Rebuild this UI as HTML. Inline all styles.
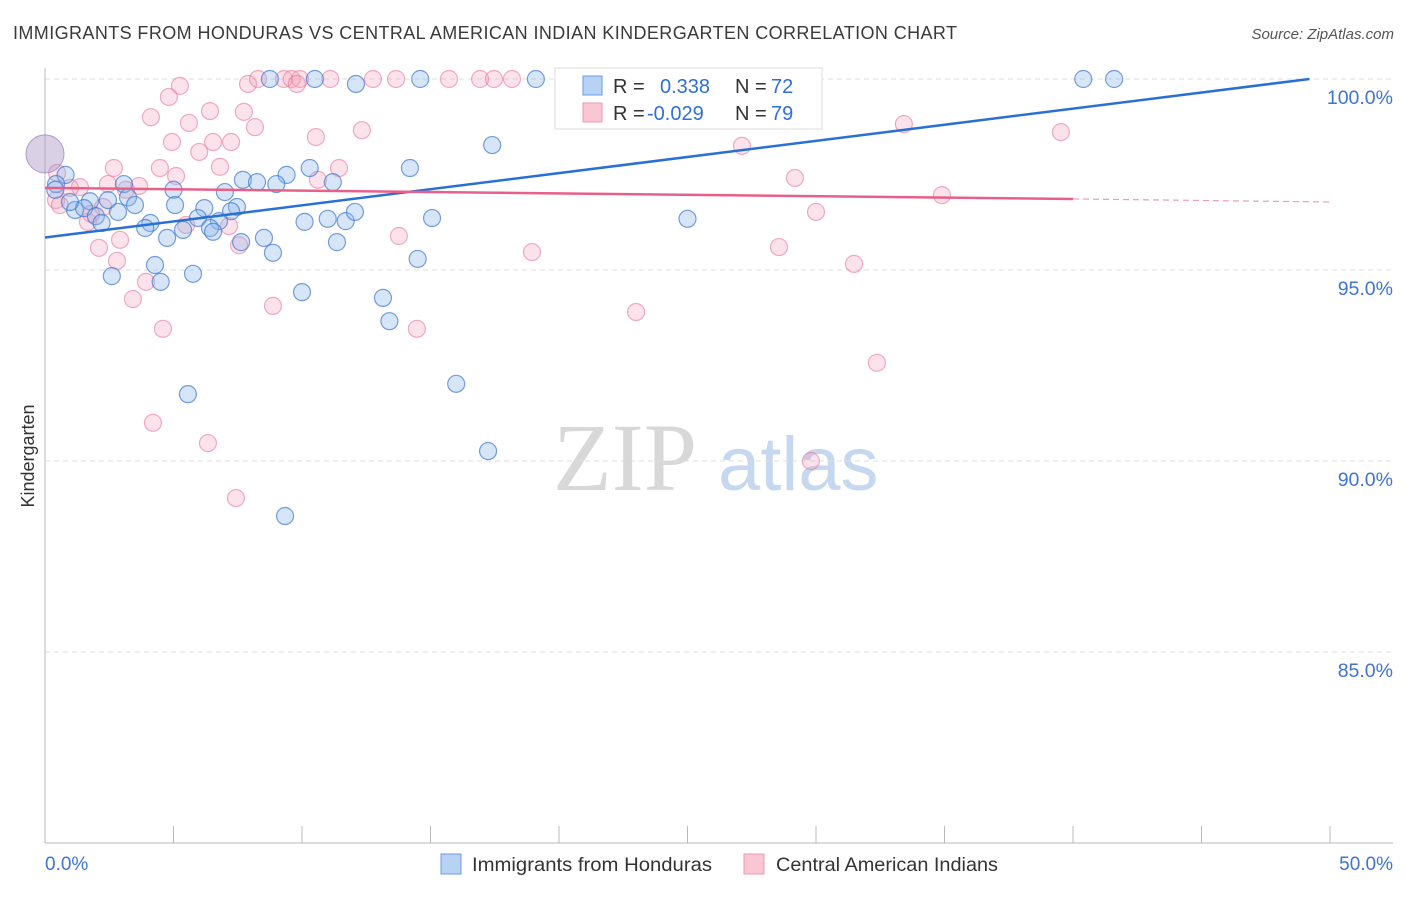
<!DOCTYPE html>
<html><head><meta charset="utf-8"><style>
body{margin:0;background:#fff;font-family:"Liberation Sans",sans-serif}
svg text{font-family:"Liberation Sans",sans-serif}
</style></head><body>
<svg id="chart" width="1406" height="892" xmlns="http://www.w3.org/2000/svg">
<text x="13" y="39" font-size="18" fill="#3a3a3a" textLength="944" lengthAdjust="spacing">IMMIGRANTS FROM HONDURAS VS CENTRAL AMERICAN INDIAN KINDERGARTEN CORRELATION CHART</text>
<text x="1394" y="39" font-size="15" fill="#555" text-anchor="end" font-style="italic">Source: ZipAtlas.com</text>
<g>
<text x="553" y="490" font-size="96" fill="#d8d8d8" font-family="Liberation Serif" style="font-family:'Liberation Serif',serif">ZIP</text>
<text x="718" y="490" font-size="76" fill="#c5d8f0">atlas</text>
</g>
<g id="grid"></g>
<g id="axes"></g>
<g id="pts"></g>
<g id="trends"></g>
<g>
<rect x="555" y="68" width="267" height="61" fill="#fff" stroke="#ddd"/>
<rect x="583" y="76" width="19" height="19" fill="#b8d2f4" stroke="#6a9be0"/>
<rect x="583" y="103" width="19" height="19" fill="#f9c6d4" stroke="#ee98b0"/>
<text x="613" y="93" font-size="20" fill="#333">R = </text><text x="660" y="93" font-size="20" fill="#2f6fd6">0.338</text>
<text x="735" y="93" font-size="20" fill="#333">N = </text><text x="771" y="93" font-size="20" fill="#2f6fd6">72</text>
<text x="613" y="120" font-size="20" fill="#333">R = </text><text x="647" y="120" font-size="20" fill="#2f6fd6">-0.029</text>
<text x="735" y="120" font-size="20" fill="#333">N = </text><text x="771" y="120" font-size="20" fill="#2f6fd6">79</text>
</g>
<g>
<rect x="441" y="854" width="20" height="20" fill="#b8d2f4" stroke="#6a9be0"/>
<text x="472" y="871" font-size="19.5" fill="#333" textLength="240" lengthAdjust="spacingAndGlyphs">Immigrants from Honduras</text>
<rect x="744" y="854" width="20" height="20" fill="#f9c6d4" stroke="#ee98b0"/>
<text x="776" y="871" font-size="19.5" fill="#333" textLength="222" lengthAdjust="spacingAndGlyphs">Central American Indians</text>
</g>
<text transform="translate(34,456) rotate(-90)" font-size="18" fill="#333" text-anchor="middle">Kindergarten</text>
</svg>
<script>
const blueX=[8.75,10.5,12.1,14.6,19.1,23.8,28.2,40.4,41.6,17.4,14.2,10.3,9.4,11.2,7.7,8.25,9.0,0.8,0.43,3.07,5.0,7.0,3.23,1.75,3.5,5.06,6.2,7.47,7.24,2.84,1.17,1.52,1.98,2.2,4.1,3.9,5.37,5.95,6.77,6.42,6.54,10.1,11.0,11.7,12.06,15.06,25.0,4.75,7.63,8.52,11.36,8.87,14.5,4.28,2.6,4.5,5.76,10.0,13.15,13.4,16.0,5.56,17.24,9.34,0.4,0.97,2.45];
const blueY=[100,100,99.87,100,100,100,100,100,100,98.27,97.67,97.67,97.49,97.3,97.36,97.3,97.25,97.49,97.25,97.25,97.1,97.04,96.9,96.8,96.7,96.7,96.62,96.65,96.54,96.52,96.57,96.62,96.41,96.23,96.23,96.1,96.05,96.36,96.28,96.1,96.0,96.26,96.34,96.28,96.52,96.36,96.34,95.84,95.73,95.84,95.73,95.45,95.29,95.13,94.84,94.69,94.9,94.42,94.27,93.66,92.02,91.75,90.26,88.56,97.1,96.78,96.83];
const pinkX=[5.25,4.82,4.12,5.6,6.42,7.74,8.17,4.94,6.0,6.54,7.24,6.81,4.47,2.68,5.1,10.54,10.62,11.44,12.33,7.9,8.29,9.3,9.6,9.92,9.8,11.1,12.76,13.66,15.72,16.93,17.47,18.17,27.12,29.18,34.9,33.42,39.53,30.0,28.56,31.48,32.37,29.8,23.0,18.95,13.77,14.47,8.87,4.59,4.2,6.34,7.43,2.1,2.92,3.42,3.93,2.8,2.26,2.45,1.36,0.97,0.43,0.58,1.67,3.66,3.15,1.79,7.16,7.55,5.49,0.47];
const pinkY=[99.82,99.53,99.0,98.85,99.16,99.14,98.74,98.35,98.09,98.35,98.35,97.7,97.67,97.67,97.46,98.48,97.36,97.67,98.66,99.87,100,100,100,100,99.87,100,100,100,100,100,100,100,98.25,97.41,96.96,98.82,98.61,96.52,95.6,95.16,92.57,90.0,93.9,95.47,95.89,93.46,94.06,93.46,91.0,90.47,89.03,95.58,95.79,94.24,94.69,95.24,96.65,97.25,97.17,97.15,96.83,96.7,96.26,97.2,97.1,96.47,96.15,95.65,96.18,97.54];
const yTicks=[100,95,90,85];
const yTickLabels=["100.0%","95.0%","90.0%","85.0%"];
const xTickLabels=["0.0%","50.0%"];
const blueTrend=[[0,95.85],[49.2,100]];
const pinkTrend=[[0,97.15],[40,96.86]];
const pinkTrendDash=[[40,96.86],[50,96.78]];
const NS="http://www.w3.org/2000/svg";
const X=v=>45+v*25.7, Y=v=>79+(100-v)*38.2;
function mk(p,t,a){const e=document.createElementNS(NS,t);for(const k in a)e.setAttribute(k,a[k]);p.appendChild(e);return e;}
const grid=document.getElementById('grid'),axes=document.getElementById('axes'),pts=document.getElementById('pts'),tr=document.getElementById('trends');
yTicks.forEach((t,i)=>{
 const l=mk(grid,'line',{x1:45,x2:1393,y1:Y(t),y2:Y(t),stroke:'#ddd','stroke-dasharray':'5,4'});
 
 
 const tx=mk(axes,'text',{x:1393,y:Y(t)+25,'font-size':19.5,fill:'#3d74d6','text-anchor':'end'});tx.textContent=yTickLabels[i];
 
 
});
mk(axes,'line',{x1:45,x2:45,y1:68,y2:843,stroke:'#bbb'});
mk(axes,'line',{x1:45,x2:1393,y1:843,y2:843,stroke:'#bbb'});
for(let i=0;i<=10;i++){const t=mk(axes,'line',{x1:X(i*5),x2:X(i*5),y1:826,y2:843,stroke:'#bbb'});
 
 }
const x0=mk(axes,'text',{x:45,y:870,'font-size':19,fill:'#3d74d6'});x0.textContent=xTickLabels[0];


const x1=mk(axes,'text',{x:1393,y:870,'font-size':19,fill:'#3d74d6','text-anchor':'end'});x1.textContent=xTickLabels[1];


pinkX.forEach((v,i)=>{const c=mk(pts,'circle',{cx:X(v),cy:Y(pinkY[i]),r:8.5,fill:'rgba(244,160,185,0.3)',stroke:'rgba(232,120,155,0.6)','stroke-width':1.2});
 
 });
blueX.forEach((v,i)=>{const c=mk(pts,'circle',{cx:X(v),cy:Y(blueY[i]),r:8.5,fill:'rgba(140,180,235,0.35)',stroke:'rgba(60,120,210,0.7)','stroke-width':1.2});
 
 });
const big=mk(pts,'circle',{cx:X(0),cy:Y(98.04),r:19,fill:'rgba(170,150,200,0.45)',stroke:'rgba(150,120,190,0.7)'});


const bl=mk(tr,'line',{x1:X(blueTrend[0][0]),y1:Y(blueTrend[0][1]),x2:X(blueTrend[1][0]),y2:Y(blueTrend[1][1]),stroke:'#2a6fd6','stroke-width':2.5});


const pl=mk(tr,'line',{x1:X(pinkTrend[0][0]),y1:Y(pinkTrend[0][1]),x2:X(pinkTrend[1][0]),y2:Y(pinkTrend[1][1]),stroke:'#e8608a','stroke-width':2.5});


const pd=mk(tr,'line',{x1:X(pinkTrendDash[0][0]),y1:Y(pinkTrendDash[0][1]),x2:X(pinkTrendDash[1][0]),y2:Y(pinkTrendDash[1][1]),stroke:'#e8a0b5','stroke-width':1.2,'stroke-dasharray':'6,4'});


</script>
</body></html>
